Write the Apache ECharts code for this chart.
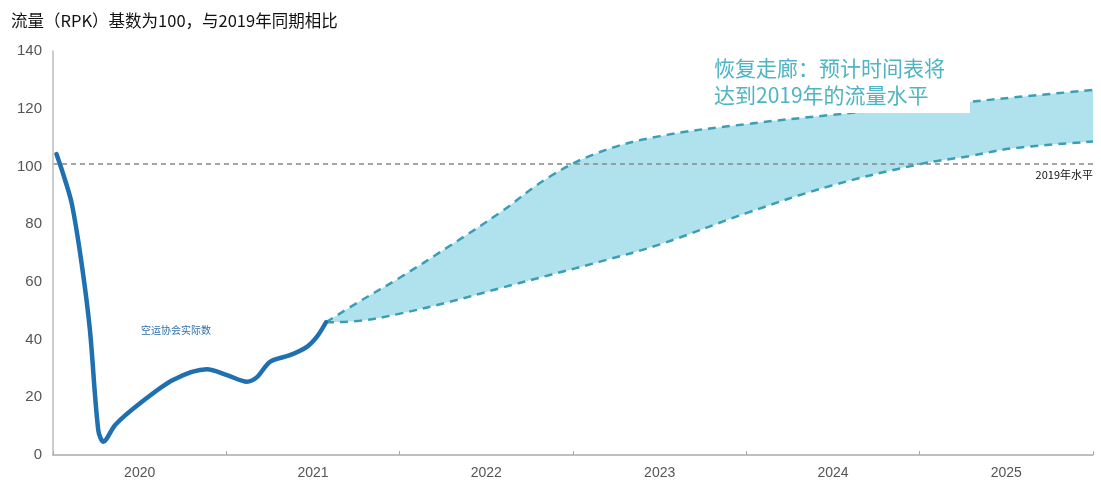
<!DOCTYPE html>
<html>
<head>
<meta charset="utf-8">
<script src="https://cdn.jsdelivr.net/npm/echarts@6/dist/echarts.min.js"></script>
<style>html,body{margin:0;padding:0;background:#fff;}#c{width:1101px;height:482px;}</style>
</head>
<body>
<div id="c"></div>
<script>
// ---- data ----
const years = ['2020', '2021', '2022', '2023', '2024', '2025'];
const yTicks = [0, 20, 40, 60, 80, 100, 120, 140];
// actual (IATA) series: x in fractional years
const actualX = [2020.02, 2020.058, 2020.108, 2020.165, 2020.213, 2020.261, 2020.29, 2020.36, 2020.502, 2020.692, 2020.888, 2021.004, 2021.119, 2021.177, 2021.252, 2021.367, 2021.465, 2021.523, 2021.575];
const actualY = [104.3, 97.5, 87.2, 66.4, 43.3, 8.7, 4.6, 10.5, 17.9, 26, 29.7, 27.7, 25.4, 27, 32.3, 34.6, 37.5, 41, 46];
// recovery corridor
const bandX = [2021.575, 2021.771, 2022.002, 2022.29, 2022.579, 2022.867, 2023.156, 2023.502, 2024.004, 2024.483, 2025.002, 2025.29, 2025.539, 2026.0];
const bandUpper = [46, 53.3, 61.5, 72.5, 84, 96.5, 105, 110.5, 114.7, 117.8, 120.8, 122.4, 123.9, 126.5];
const bandLower = [46, 46.5, 49, 53.1, 57.8, 62.4, 67, 73, 83.9, 93.2, 100.8, 103.6, 106.3, 108.6];
const level2019 = 101;

const chart = echarts.init(document.getElementById('c'));
const cjk = 'Noto Sans CJK SC';
const latin = 'Liberation Sans, Arial, sans-serif';

const actualData = actualX.map((x, i) => [x, actualY[i]]);
const upperData = bandX.map((x, i) => [x, bandUpper[i]]);
const lowerData = bandX.map((x, i) => [x, bandLower[i]]);
const dash = { color: '#3a9fb6', width: 2.5, type: [8, 6] };

chart.setOption({
  animation: false,
  title: {
    text: '流量（RPK）基数为100，与2019年同期相比',
    left: 6, top: 7,
    textStyle: { fontFamily: cjk, fontSize: 16.5, fontWeight: 'normal', color: '#111' }
  },
  grid: { left: 53, right: 8, top: 51, bottom: 27 },
  xAxis: [
    {
      type: 'value', min: 2020, max: 2026, interval: 1, z: 10,
      axisLine: { show: true, lineStyle: { color: '#aaa', width: 1.5 } },
      axisTick: { show: true, inside: true, length: 4, lineStyle: { color: '#aaa' } },
      axisLabel: { show: false },
      splitLine: { show: false }
    },
    {
      type: 'category', data: years, boundaryGap: true, position: 'bottom',
      axisLine: { show: false }, axisTick: { show: false },
      axisLabel: { color: '#555', fontSize: 14, fontFamily: latin, margin: 11 },
      splitLine: { show: false }
    }
  ],
  yAxis: {
    type: 'value', min: yTicks[0], max: yTicks[yTicks.length - 1], interval: 20, z: 10,
    axisLine: { show: true, lineStyle: { color: '#bbb', width: 1.5 } },
    axisTick: { show: false },
    axisLabel: { color: '#555', fontSize: 15, fontFamily: latin, margin: 11 },
    splitLine: { show: false }
  },
  series: [
    {
      name: 'upper', type: 'line', xAxisIndex: 0, data: upperData,
      smooth: 0.4, symbol: 'none', lineStyle: dash,
      areaStyle: { color: '#b0e2ed', opacity: 1, origin: 'start' },
      z: 1
    },
    {
      name: 'lower', type: 'line', xAxisIndex: 0, data: lowerData,
      smooth: 0.4, symbol: 'none', lineStyle: dash,
      areaStyle: { color: '#ffffff', opacity: 1, origin: 'start' },
      z: 2
    },
    {
      name: 'actual', type: 'line', xAxisIndex: 0, data: actualData,
      smooth: 0.3, symbol: 'none',
      lineStyle: { color: '#1f70b0', width: 4.5, cap: 'round', join: 'round' },
      z: 4,
      markLine: {
        silent: true, symbol: 'none',
        lineStyle: { color: '#888', type: [5, 4], width: 1.5 },
        label: {
          position: 'insideEndBottom', formatter: '2019年水平', distance: [0, 6],
          color: '#111', fontSize: 11, fontFamily: cjk
        },
        data: [{ yAxis: level2019 }]
      }
    }
  ],
  graphic: [
    { type: 'rect', shape: { x: 700, y: 42, width: 270, height: 71 }, style: { fill: '#fff' }, z: 50 },
    {
      type: 'text', left: 714, top: 55, z: 51,
      style: { text: '恢复走廊：预计时间表将\n达到2019年的流量水平', fill: '#4fb4c3', fontSize: 21, lineHeight: 27, fontFamily: cjk }
    },
    {
      type: 'text', left: 141, top: 325, z: 51,
      style: { text: '空运协会实际数', fill: '#2f6fa8', fontSize: 10, fontFamily: cjk }
    }
  ]
});
</script>
</body>
</html>
